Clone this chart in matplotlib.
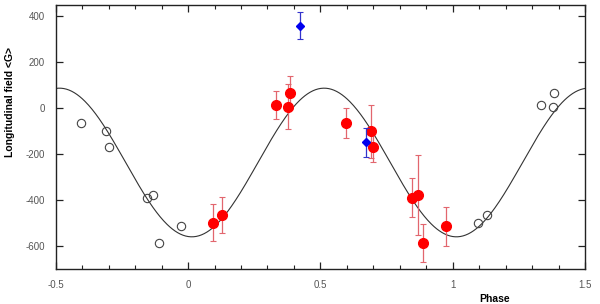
import numpy as np
import matplotlib
matplotlib.use("Agg")
import matplotlib.pyplot as plt

# ---------------------------------------------------
# Data
# ---------------------------------------------------
# red measurements (phase, <Bz> in G, 1-sigma error)
red_phase = [0.095, 0.128, 0.332, 0.378, 0.384, 0.597, 0.691, 0.700, 0.846, 0.867, 0.889, 0.973]
red_field = [-499, -465, 12, 6, 67, -66, -101, -168, -390, -378, -588, -515]
red_err = [81, 80, 62, 96, 72, 64, 116, 67, 86, 172, 83, 83]

# blue measurements
blue_phase = [0.424, 0.672]
blue_field = [357, -149]
blue_err = [58, 63]

# sinusoidal fit: mean, semi-amplitude, phase of maximum
fit_mean = -237
fit_amp = 323
fit_phmax = 0.514

x_ticks = [-0.5, 0, 0.5, 1, 1.5]
x_ticklabels = ["-0.5", "0", "0.5", "1", "1.5"]
y_ticks = [400, 200, 0, -200, -400, -600]
y_ticklabels = ["400", "200", "0", "-200", "-400", "-600"]

# ---------------------------------------------------
# Repeated points (phase shifted by one cycle) shown as open circles
# ---------------------------------------------------
rep_phase = [p - 1 if p > 0.5 else p + 1 for p in red_phase]
rep_field = list(red_field)

plt.rcParams['font.family'] = ['Liberation Sans', 'DejaVu Sans']

fig = plt.figure(figsize=(6.0, 3.04), dpi=100)
ax = fig.add_axes([0.093, 0.115, 0.882, 0.869])

ph = np.linspace(-0.5, 1.5, 600)
ax.plot(ph, fit_mean + fit_amp * np.cos(2 * np.pi * (ph - fit_phmax)),
        color='#333333', lw=0.8, zorder=1)

ax.plot(rep_phase, rep_field, 'o', mfc='none', mec='#444444', mew=0.8, ms=6, zorder=2)

ax.errorbar(red_phase, red_field, yerr=red_err, fmt='o', color='#ff0000', ms=7,
            ecolor='#e2666e', elinewidth=0.9, capsize=2.5, capthick=0.8, zorder=3)
ax.errorbar(blue_phase, blue_field, yerr=blue_err, fmt='D', color='#0000ee', ms=4.5,
            ecolor='#3333cc', elinewidth=0.9, capsize=2.5, capthick=0.8, zorder=4)

ax.set_xlim(-0.5, 1.5)
ax.set_ylim(-700, 448)
ax.set_xticks(x_ticks)
ax.set_xticklabels(x_ticklabels)
ax.set_xticks(np.arange(-0.5, 1.51, 0.1), minor=True)
ax.set_yticks(y_ticks)
ax.set_yticklabels(y_ticklabels)

ax.tick_params(which='both', direction='in', top=True, right=True,
               labelsize=7, labelcolor='#555555', color='#222222')
ax.tick_params(which='major', length=5, width=0.9)
ax.tick_params(which='minor', length=3, width=0.8)
ax.tick_params(axis='x', pad=8)
ax.tick_params(axis='y', pad=8)
for s in ax.spines.values():
    s.set_linewidth(1.0)
    s.set_color('#222222')

fig.text(0.017, 0.665, 'Longitudinal field <G>', rotation=90, ha='center', va='center',
         fontsize=7.5, fontweight='bold')
fig.text(0.825, 0.018, 'Phase', ha='center', va='center', fontsize=7.5, fontweight='bold')

plt.savefig("out.png", dpi=100, facecolor='white')
plt.close()
